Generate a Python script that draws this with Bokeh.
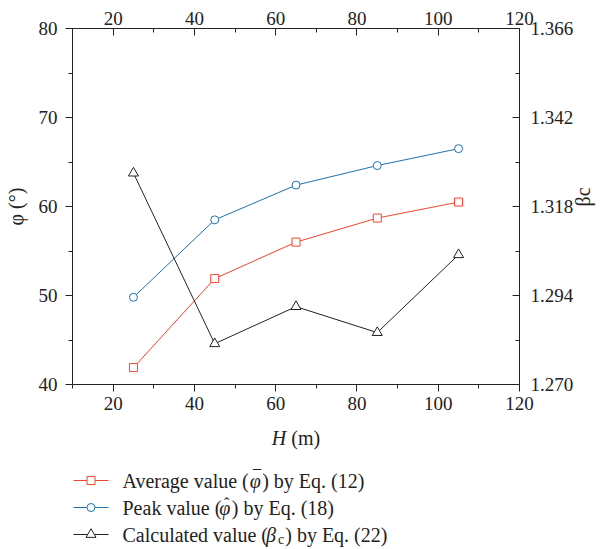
import math
from bokeh.plotting import figure
from bokeh.models import Range1d, LinearAxis, FixedTicker, PrintfTickFormatter
from bokeh.layouts import column
from bokeh.core.properties import value
from bokeh.embed import file_html
from bokeh.resources import INLINE

# ---------------- data ----------------
H = [25, 45, 65, 85, 105]
phi_avg = [41.9, 51.9, 56.0, 58.7, 60.5]
phi_peak = [49.8, 58.5, 62.4, 64.6, 66.5]
beta_c = [1.327, 1.281, 1.291, 1.284, 1.305]

x_ticks = [20, 40, 60, 80, 100, 120]
x_minor = [10, 30, 50, 70, 90, 110]
phi_ticks = [40, 50, 60, 70, 80]
phi_minor = [45, 55, 65, 75]
beta_ticks = [1.270, 1.294, 1.318, 1.342, 1.366]
beta_minor = [1.282, 1.306, 1.330, 1.354]

phi_title = "\u03c6 (\u00b0)"
beta_title = "\u03b2c"
x_title = [("H", "italic"), (" (m)", "normal")]
# (text, style, accent placed above the piece)
legend_rows = [
    [("Average value (", "normal", None), ("\u03c6", "italic", "\u00af"), (") by Eq. (12)", "normal", None)],
    [("Peak value (", "normal", None), ("\u03c6", "italic", "\u02c6"), (") by Eq. (18)", "normal", None)],
    [("Calculated value (", "normal", None), ("\u03b2", "italic", None), ("c", "sub", None), (") by Eq. (22)", "normal", None)],
]

# ---------------- styles ----------------
FONT = "Liberation Serif"
RED = "#F0462E"
BLUE = "#1C72AC"
BLACK = "#222222"
TICK_FS = "19px"
LBL_FS = "20px"
LEG_FS = 20
SUB_FS = 14

W_NORMAL = {' ': 250, '(': 333, ')': 333, '.': 250, 'A': 722, 'C': 667, 'E': 611, 'P': 556,
            'a': 444, 'b': 500, 'c': 444, 'd': 500, 'e': 444, 'g': 500, 'k': 500, 'l': 278,
            'q': 500, 't': 278, 'u': 500, 'v': 500, 'y': 500, 'm': 778, 'H': 722}
W_ITALIC = {'H': 722, '\u03b2': 500, '\u03c6': 520}
KERN = {('A', 'v'): -74, ('v', 'a'): -25, ('v', 'e'): -15}


def tw(s, size, italic=False):
    table = W_ITALIC if italic else W_NORMAL
    tot = sum(table.get(ch, 500) for ch in s)
    if not italic:
        tot += sum(KERN.get((a, b), 0) for a, b in zip(s, s[1:]))
    return tot * size / 1000.0


L, R, T = 72, 93, 28
MAIN_H = 420
TOTAL_W, TOTAL_H = 612, 549

# ---------------- main figure ----------------
p = figure(width=TOTAL_W, height=MAIN_H, x_range=Range1d(10, 120), y_range=Range1d(40, 80),
           x_axis_location=None, y_axis_location=None, toolbar_location=None,
           output_backend="svg", min_border_left=L, min_border_right=R,
           min_border_top=T, min_border_bottom=MAIN_H - 384)
p.extra_y_ranges = {"beta": Range1d(1.270, 1.366)}
p.grid.visible = False
p.outline_line_color = None


def style_axis(ax, inward, standoff):
    ax.axis_line_color = BLACK
    ax.axis_line_width = 1
    ax.major_tick_line_color = BLACK
    ax.minor_tick_line_color = BLACK
    if inward:
        ax.major_tick_in, ax.major_tick_out = 7, 0
        ax.minor_tick_in, ax.minor_tick_out = 4, 0
    else:
        ax.major_tick_in, ax.major_tick_out = 0, 7
        ax.minor_tick_in, ax.minor_tick_out = 0, 4
    ax.major_label_text_font = FONT
    ax.major_label_text_font_size = TICK_FS
    ax.major_label_text_color = BLACK
    ax.major_label_standoff = standoff
    ax.axis_label_text_font = FONT
    ax.axis_label_text_font_size = LBL_FS
    ax.axis_label_text_font_style = "normal"
    ax.axis_label_text_color = BLACK


bottom = LinearAxis(ticker=FixedTicker(ticks=x_ticks, minor_ticks=x_minor))
style_axis(bottom, False, 5)
p.add_layout(bottom, "below")

top = LinearAxis(ticker=FixedTicker(ticks=x_ticks, minor_ticks=x_minor))
style_axis(top, True, 4)
p.add_layout(top, "above")

left = LinearAxis(ticker=FixedTicker(ticks=phi_ticks, minor_ticks=phi_minor),
                  axis_label=phi_title)
style_axis(left, False, 8)
left.axis_label_standoff = 9
p.add_layout(left, "left")

right = LinearAxis(y_range_name="beta",
                   ticker=FixedTicker(ticks=beta_ticks, minor_ticks=beta_minor),
                   formatter=PrintfTickFormatter(format="%.3f"),
                   axis_label=beta_title)
style_axis(right, True, 11)
right.axis_label_standoff = 7
if "axis_label_orientation" in right.properties():
    right.axis_label_orientation = math.pi / 2
p.add_layout(right, "right")

# series
p.line(H, phi_avg, line_color=RED, line_width=1)
p.line(H, phi_peak, line_color=BLUE, line_width=1)
p.line(H, beta_c, line_color=BLACK, line_width=1, y_range_name="beta")
p.scatter(H, phi_avg, marker="square", size=8, line_color=RED, fill_color="white", line_width=1)
p.scatter(H, phi_peak, marker="circle", size=8, line_color=BLUE, fill_color="white", line_width=1)
p.scatter(H, beta_c, marker="triangle", size=10, line_color=BLACK, fill_color="white",
          line_width=1, y_range_name="beta")

# ---------------- lower strip: x title + legend (data units = page pixels) ----------------
lg = figure(width=TOTAL_W, height=TOTAL_H - MAIN_H,
            x_range=Range1d(L, TOTAL_W - R), y_range=Range1d(TOTAL_H, MAIN_H),
            x_axis_location=None, y_axis_location=None, toolbar_location=None,
            output_backend="svg", min_border_left=L, min_border_right=R,
            min_border_top=0, min_border_bottom=0)
lg.grid.visible = False
lg.outline_line_color = None


def put_text(x, y, t, style, size, align="left"):
    """Draw a text piece; leading spaces are turned into an x offset."""
    stripped = t.lstrip(" ")
    x += tw(t[:len(t) - len(stripped)], size)
    lg.text(x=[x], y=[y], text=[stripped], text_font=value(FONT), text_font_size=f"{size}px",
            text_font_style=style, text_color=BLACK, text_baseline="middle",
            text_align=align)


# x-axis title "H (m)" centred under the frame
total = sum(tw(t, 20, st == "italic") for t, st in x_title)
x = (L + TOTAL_W - R) / 2 - total / 2
for t, st in x_title:
    put_text(x, 437, t, st, 20)
    x += tw(t, 20, st == "italic")

# legend
row_y = [480, 507, 534]
colors = [RED, BLUE, BLACK]
markers = ["square", "circle", "triangle"]
sizes = [8, 8, 10]
lg.segment(x0=[73] * 3, y0=row_y, x1=[108] * 3, y1=row_y, line_color=colors, line_width=1)
lg.scatter(x=[90.5] * 3, y=row_y, marker=markers, size=sizes, line_color=colors,
           fill_color="white", line_width=1)

for ry, pieces in zip(row_y, legend_rows):
    x = 122
    for t, st, accent in pieces:
        if st == "sub":
            put_text(x, ry + 5, t, "normal", SUB_FS)
            x += tw(t, SUB_FS) + 1
            continue
        w = tw(t, LEG_FS, st == "italic")
        if st == "italic":
            x -= 1.5
        put_text(x, ry, t, st, LEG_FS)
        if accent is not None:
            put_text(x + w / 2 + 2, ry - 4, accent, "normal", 16, align="center")
        x += w + (2 if st == "italic" else 0)

layout = column(p, lg, spacing=0)
open("out.html", "w").write(file_html(layout, INLINE))
